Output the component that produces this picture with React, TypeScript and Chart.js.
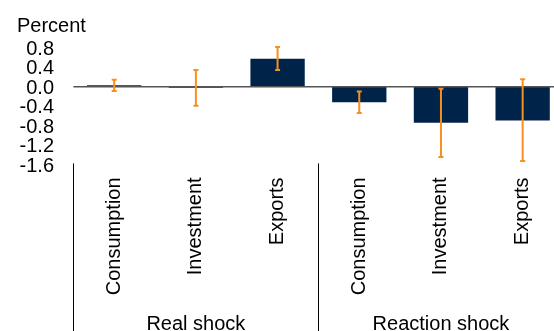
import { useEffect, useRef } from "react";
import { Chart, registerables } from "chart.js";

Chart.register(...registerables);

// Impulse responses by component, grouped by shock type
const categories = ["Consumption", "Investment", "Exports", "Consumption", "Investment", "Exports"];
const groups = ["Real shock", "Reaction shock"];
const groupSize = 3;
const responses = [0.03, -0.02, 0.57, -0.32, -0.74, -0.69];
const bandLow = [-0.09, -0.39, 0.34, -0.54, -1.44, -1.52];
const bandHigh = [0.14, 0.34, 0.81, -0.1, -0.04, 0.15];
const yTicks = [0.8, 0.4, 0.0, -0.4, -0.8, -1.2, -1.6];
const unitLabel = "Percent";

const FONT = "'Liberation Sans', Arial, Helvetica, sans-serif";
const BAR_COLOR = "#00234a";
const BAND_COLOR = "#f7901e";

const W = 566;
const H = 331;

// zero line plus confidence bands on top of the bars
const bandsPlugin = {
  id: "bands",
  afterDatasetsDraw(chart: any) {
    const { ctx, chartArea, scales } = chart;
    const x = scales.x;
    const y = scales.y;
    ctx.save();
    const y0 = y.getPixelForValue(0);
    ctx.strokeStyle = "#555555";
    ctx.lineWidth = 1.5;
    ctx.beginPath();
    ctx.moveTo(chartArea.left, y0);
    ctx.lineTo(chartArea.right, y0);
    ctx.stroke();

    ctx.strokeStyle = BAND_COLOR;
    ctx.lineWidth = 2;
    const cap = 2.5;
    responses.forEach((_, i) => {
      const px = x.getPixelForValue(i);
      const top = y.getPixelForValue(bandHigh[i]);
      const bot = y.getPixelForValue(bandLow[i]);
      ctx.beginPath();
      ctx.moveTo(px, top);
      ctx.lineTo(px, bot);
      ctx.moveTo(px - cap, top);
      ctx.lineTo(px + cap, top);
      ctx.moveTo(px - cap, bot);
      ctx.lineTo(px + cap, bot);
      ctx.stroke();
    });
    ctx.restore();
  },
};

// group separators, group names and the unit label
const groupAxisPlugin = {
  id: "groupAxis",
  afterDraw(chart: any) {
    const { ctx, scales } = chart;
    const x = scales.x;
    const step = x.getPixelForValue(1) - x.getPixelForValue(0);
    ctx.save();
    ctx.strokeStyle = "#000000";
    ctx.lineWidth = 1;
    for (let g = 0; g < groups.length; g++) {
      const edge = Math.round(x.getPixelForValue(g * groupSize) - step / 2) + 0.5;
      ctx.beginPath();
      ctx.moveTo(edge, x.top - 1.5);
      ctx.lineTo(edge, H);
      ctx.stroke();
    }
    ctx.fillStyle = "#000000";
    ctx.font = `20px ${FONT}`;
    ctx.textAlign = "center";
    ctx.textBaseline = "alphabetic";
    groups.forEach((name, g) => {
      const a = x.getPixelForValue(g * groupSize);
      const b = x.getPixelForValue(g * groupSize + groupSize - 1);
      ctx.fillText(name, (a + b) / 2, x.bottom - 1.5);
    });
    ctx.textAlign = "left";
    ctx.fillText(unitLabel, 17, 31.5);
    ctx.restore();
  },
};

export default function App() {
  const canvasRef = useRef<HTMLCanvasElement | null>(null);

  useEffect(() => {
    const canvas = canvasRef.current;
    if (!canvas) return;
    const chart = new Chart(canvas, {
      type: "bar",
      data: {
        labels: categories,
        datasets: [
          {
            data: responses,
            backgroundColor: BAR_COLOR,
            borderWidth: 0,
            categoryPercentage: 1,
            barPercentage: 0.665,
          },
        ],
      },
      options: {
        responsive: false,
        animation: false,
        devicePixelRatio: 1,
        layout: { padding: { left: 0, right: 2.5, top: 47.6, bottom: 0 } },
        plugins: {
          legend: { display: false },
          tooltip: { enabled: false },
          title: { display: false },
        },
        scales: {
          x: {
            grid: { display: false, drawTicks: false },
            border: { display: false },
            ticks: {
              autoSkip: false,
              minRotation: 90,
              maxRotation: 90,
              padding: 12.5,
              color: "#000000",
              font: { family: FONT, size: 20 },
            },
            afterFit: (scale: any) => {
              scale.height = H - 164.9;
            },
          },
          y: {
            min: -1.6,
            max: 0.8,
            grid: { display: false, drawTicks: false },
            border: { display: false },
            ticks: {
              autoSkip: false,
              padding: 19.35,
              labelOffset: 1.5,
              color: "#000000",
              font: { family: FONT, size: 20, lineHeight: 1 },
              callback: (v: any) => Number(v).toFixed(1),
            },
            afterBuildTicks: (scale: any) => {
              scale.ticks = yTicks.map((v) => ({ value: v }));
            },
            afterFit: (scale: any) => {
              scale.width = 73.35;
            },
          },
        },
      },
      plugins: [bandsPlugin, groupAxisPlugin],
    });
    return () => chart.destroy();
  }, []);

  return (
    <div
      style={{
        position: "fixed",
        left: 0,
        top: 0,
        width: 554,
        height: H,
        overflow: "hidden",
        background: "#ffffff",
      }}
    >
      <canvas ref={canvasRef} width={W} height={H} style={{ display: "block" }} />
    </div>
  );
}
